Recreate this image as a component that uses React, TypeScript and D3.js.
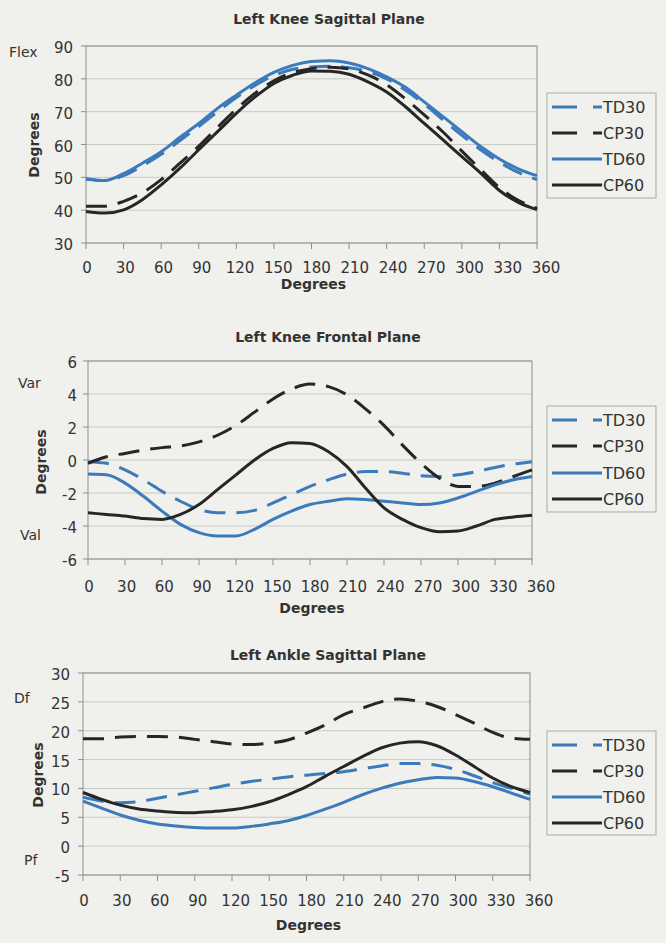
import React from "react";
import * as d3 from "d3";

// ---------- data ----------
const DEGREES = [0, 15, 30, 45, 60, 75, 90, 105, 120, 135, 150, 165, 180, 195, 210, 225, 240, 255, 270, 285, 300, 315, 330, 345, 360];
const X_TICKS = [0, 30, 60, 90, 120, 150, 180, 210, 240, 270, 300, 330, 360];
const SERIES_NAMES = ["TD30", "CP30", "TD60", "CP60"];

// Left Knee Sagittal Plane
const kneeSagTD30 = [49.5, 49.0, 50.5, 53.5, 57.0, 61.2, 65.5, 70.0, 74.3, 78.0, 81.0, 82.9, 83.6, 83.8, 83.4, 82.2, 80.0, 76.5, 72.3, 67.5, 62.8, 58.4, 54.6, 51.5, 49.3];
const kneeSagCP30 = [41.2, 41.2, 42.7, 45.3, 49.3, 54.3, 59.5, 65.2, 70.8, 75.6, 79.4, 81.9, 83.1, 83.5, 83.0, 81.2, 78.2, 73.9, 69.0, 63.8, 58.0, 52.4, 46.9, 43.0, 40.6];
const kneeSagTD60 = [49.6, 49.0, 51.1, 54.3, 57.8, 62.2, 66.4, 71.0, 75.0, 78.8, 82.0, 84.1, 85.3, 85.5, 84.8, 83.1, 80.6, 77.4, 73.0, 68.5, 63.9, 59.4, 55.6, 52.6, 50.5];
const kneeSagCP60 = [39.6, 39.1, 40.1, 43.2, 47.7, 52.8, 58.4, 63.9, 69.5, 74.5, 78.6, 81.1, 82.4, 82.3, 81.4, 79.1, 76.0, 71.5, 66.4, 61.4, 56.3, 51.3, 46.0, 42.4, 40.2];
const kneeSagTicks = [30, 40, 50, 60, 70, 80, 90];

// Left Knee Frontal Plane
const kneeFrTD30 = [-0.1, -0.2, -0.6, -1.2, -1.9, -2.5, -3.0, -3.2, -3.2, -3.05, -2.6, -2.1, -1.6, -1.2, -0.85, -0.7, -0.7, -0.8, -0.95, -1.0, -0.9, -0.7, -0.45, -0.25, -0.1];
const kneeFrCP30 = [-0.2, 0.2, 0.4, 0.6, 0.75, 0.85, 1.1, 1.5, 2.1, 2.9, 3.7, 4.3, 4.6, 4.45, 3.95, 3.1, 2.1, 0.9, -0.2, -1.1, -1.6, -1.6, -1.4, -1.0, -0.6];
const kneeFrTD60 = [-0.85, -0.9, -1.4, -2.2, -3.1, -3.9, -4.4, -4.6, -4.6, -4.2, -3.6, -3.1, -2.7, -2.5, -2.35, -2.4, -2.5, -2.6, -2.7, -2.6, -2.3, -1.9, -1.5, -1.2, -1.0];
const kneeFrCP60 = [-3.2, -3.3, -3.4, -3.55, -3.6, -3.3, -2.7, -1.8, -0.9, 0.0, 0.7, 1.05, 1.0, 0.5, -0.4, -1.7, -2.9, -3.6, -4.1, -4.35, -4.3, -4.0, -3.6, -3.45, -3.35];
const kneeFrTicks = [-6, -4, -2, 0, 2, 4, 6];

// Left Ankle Sagittal Plane
const ankleTD30 = [8.5, 7.8, 7.5, 7.7, 8.3, 8.9, 9.5, 10.1, 10.7, 11.2, 11.6, 12.0, 12.3, 12.6, 12.9, 13.4, 13.9, 14.3, 14.3, 14.0, 13.3, 12.2, 11.0, 10.0, 9.0];
const ankleCP30 = [18.6, 18.6, 18.9, 19.0, 19.0, 18.9, 18.5, 18.1, 17.7, 17.6, 17.85, 18.4, 19.6, 21.0, 22.8, 23.9, 25.0, 25.5, 25.1, 24.2, 22.8, 21.3, 19.7, 18.7, 18.5];
const ankleTD60 = [7.8, 6.6, 5.4, 4.5, 3.85, 3.5, 3.25, 3.15, 3.15, 3.4, 3.85, 4.4, 5.3, 6.4, 7.6, 8.9, 10.0, 10.9, 11.5, 11.9, 11.8, 11.2, 10.3, 9.2, 8.1];
const ankleCP60 = [9.3, 8.1, 7.1, 6.45, 6.1, 5.85, 5.8, 6.0, 6.3, 6.85, 7.7, 8.9, 10.3, 12.1, 13.8, 15.5, 17.0, 17.85, 18.1, 17.4, 15.8, 13.8, 11.8, 10.3, 9.3];
const ankleTicks = [-5, 0, 5, 10, 15, 20, 25, 30];

// ---------- styles ----------
const BG = "#f0f0ec";
const TEXT = "#333333";
const BLUE = "#3b7abb";
const BLACK = "#262626";
const GRID = "#c9c9c6";
const BORDER = "#8d8d8d";
const FONT = "'DejaVu Sans', sans-serif";

const seriesStyle = [
  { color: BLUE, dash: "21 11" },
  { color: BLACK, dash: "21 11" },
  { color: BLUE, dash: null },
  { color: BLACK, dash: null },
];

const charts = [
  {
    title: "Left Knee Sagittal Plane",
    series: [kneeSagTD30, kneeSagCP30, kneeSagTD60, kneeSagCP60],
    yTicks: kneeSagTicks,
    side: [{ text: "Flex", x: 9, y: 57 }],
    L: { left: 86, right: 537, top: 46, bottom: 243, titleY: 24, titleX: 329, yLabRight: 73, yTitleX: 39, yTitleY: 145, xLabY: 273, xTitleY: 289, legTop: 93, legBottom: 198, legRows: [107, 133, 159, 185] },
  },
  {
    title: "Left Knee Frontal Plane",
    series: [kneeFrTD30, kneeFrCP30, kneeFrTD60, kneeFrCP60],
    yTicks: kneeFrTicks,
    side: [{ text: "Var", x: 18, y: 388 }, { text: "Val", x: 20, y: 540 }],
    L: { left: 88, right: 532, top: 361, bottom: 559, titleY: 342, titleX: 328, yLabRight: 77, yTitleX: 46, yTitleY: 462, xLabY: 592, xTitleY: 613, legTop: 406, legBottom: 512, legRows: [420, 446, 473, 499] },
  },
  {
    title: "Left Ankle Sagittal Plane",
    series: [ankleTD30, ankleCP30, ankleTD60, ankleCP60],
    yTicks: ankleTicks,
    side: [{ text: "Df", x: 14, y: 703 }, { text: "Pf", x: 24, y: 865 }],
    L: { left: 83, right: 530, top: 673, bottom: 875, titleY: 660, titleX: 328, yLabRight: 70, yTitleX: 43, yTitleY: 775, xLabY: 906, xTitleY: 930, legTop: 731, legBottom: 835, legRows: [745, 771, 797, 823] },
  },
];

function Chart({ cfg }: { cfg: any }) {
  const L = cfg.L;
  const x = d3.scaleLinear().domain([0, 360]).range([L.left, L.right]);
  const xLab = d3.scaleLinear().domain([0, 360]).range([L.left + 1, L.right + 9]);
  const yExt = d3.extent(cfg.yTicks as number[]) as [number, number];
  const y = d3.scaleLinear().domain(yExt).range([L.bottom, L.top]);
  const line = d3
    .line<number>()
    .x((_, i) => x(DEGREES[i]))
    .y((v) => y(v))
    .curve(d3.curveMonotoneX);
  const legLeft = 547;
  const legRight = 656;
  return (
    <g>
      <text x={L.titleX} y={L.titleY} textAnchor="middle" fontWeight="bold" fontSize={14} fill={TEXT}>
        {cfg.title}
      </text>
      {/* grid */}
      {cfg.yTicks.map((t: number) => (
        <line key={"g" + t} x1={L.left} x2={L.right} y1={y(t)} y2={y(t)} stroke={GRID} strokeWidth={1} />
      ))}
      {/* y ticks */}
      {cfg.yTicks.map((t: number) => (
        <g key={"yt" + t}>
          <line x1={L.left - 5} x2={L.left} y1={y(t)} y2={y(t)} stroke={BORDER} />
          <text x={L.yLabRight} y={y(t) + 7} textAnchor="end" fontSize={15} fill={TEXT}>
            {t}
          </text>
        </g>
      ))}
      {/* x ticks */}
      {X_TICKS.map((t) => (
        <g key={"xt" + t}>
          <line x1={x(t)} x2={x(t)} y1={L.bottom} y2={L.bottom + 6} stroke={BORDER} />
          <text x={xLab(t)} y={L.xLabY} textAnchor="middle" fontSize={15} fill={TEXT}>
            {t}
          </text>
        </g>
      ))}
      <rect x={L.left} y={L.top} width={L.right - L.left} height={L.bottom - L.top} fill="none" stroke={BORDER} strokeWidth={1} />
      {/* series */}
      {cfg.series.map((s: number[], i: number) => (
        <path
          key={"s" + i}
          d={line(s) || ""}
          fill="none"
          stroke={seriesStyle[i].color}
          strokeWidth={3}
          strokeDasharray={seriesStyle[i].dash || undefined}
          strokeLinejoin="round"
        />
      ))}
      {/* axis titles */}
      <text x={(L.left + L.right) / 2 + 2} y={L.xTitleY} textAnchor="middle" fontWeight="bold" fontSize={14} fill={TEXT}>
        Degrees
      </text>
      <text transform={`translate(${L.yTitleX},${L.yTitleY}) rotate(-90)`} textAnchor="middle" fontWeight="bold" fontSize={14} fill={TEXT}>
        Degrees
      </text>
      {cfg.side.map((s: any) => (
        <text key={s.text} x={s.x} y={s.y} fontSize={14} fill={TEXT}>
          {s.text}
        </text>
      ))}
      {/* legend */}
      <rect x={legLeft} y={L.legTop} width={legRight - legLeft} height={L.legBottom - L.legTop} fill={BG} stroke="#a9a9a6" />
      {SERIES_NAMES.map((n, i) => (
        <g key={n}>
          <line
            x1={legLeft + 5}
            x2={legLeft + 55}
            y1={L.legRows[i]}
            y2={L.legRows[i]}
            stroke={seriesStyle[i].color}
            strokeWidth={3}
            strokeDasharray={seriesStyle[i].dash ? "25 16" : undefined}
          />
          <text x={legLeft + 56} y={L.legRows[i] + 6} fontSize={16} fill={TEXT}>
            {n}
          </text>
        </g>
      ))}
    </g>
  );
}

export default function App() {
  return (
    <svg
      width={666}
      height={943}
      style={{ position: "absolute", left: 0, top: 0, display: "block" }}
      fontFamily={FONT}
    >
      <rect x={0} y={0} width={666} height={943} fill={BG} />
      {charts.map((c) => (
        <Chart key={c.title} cfg={c} />
      ))}
    </svg>
  );
}
